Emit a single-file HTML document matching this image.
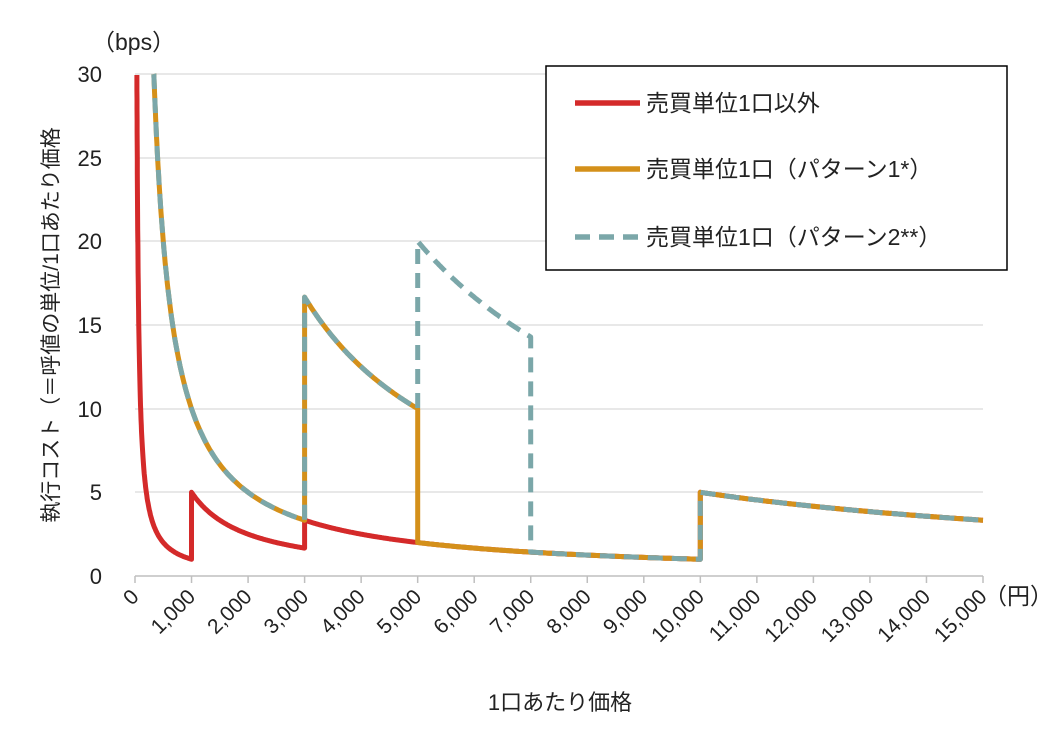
<!DOCTYPE html>
<html><head><meta charset="utf-8"><style>
body{margin:0;background:#fff;}
svg text{font-family:"Liberation Sans","Noto Sans CJK JP",sans-serif;fill:#222;}
</style></head><body>
<svg id="s" width="1049" height="725" xmlns="http://www.w3.org/2000/svg">
<rect width="1049" height="725" fill="#fff"/>
<g stroke="#d9d9d9" stroke-width="1.2">
<line x1="135" x2="983" y1="492" y2="492"/><line x1="135" x2="983" y1="409" y2="409"/>
<line x1="135" x2="983" y1="325" y2="325"/><line x1="135" x2="983" y1="241" y2="241"/>
<line x1="135" x2="983" y1="158" y2="158"/><line x1="135" x2="983" y1="74" y2="74"/>
</g>
<line x1="135" x2="983" y1="576" y2="576" stroke="#bfbfbf" stroke-width="1.5"/>
<g id="ticks" stroke="#bfbfbf" stroke-width="1.5"></g>
<g font-size="22" text-anchor="end">
<text x="102" y="584">0</text><text x="102" y="500">5</text><text x="102" y="417">10</text>
<text x="102" y="333">15</text><text x="102" y="249">20</text><text x="102" y="166">25</text><text x="102" y="82">30</text>
</g>
<g id="xl" font-size="21" text-anchor="end"></g>
<text x="92" y="50" font-size="23">（bps）</text>
<text x="984" y="604" font-size="23">（円）</text>
<text x="560" y="710" font-size="22" text-anchor="middle">1口あたり価格</text>
<text transform="translate(58,325) rotate(-90)" font-size="21" text-anchor="middle">執行コスト（＝呼値の単位/1口あたり価格</text>
<g id="lines" fill="none" stroke-linejoin="round"></g>
<rect x="546" y="66" width="461" height="204" fill="#fff" stroke="#000" stroke-width="1.5"/>
<line x1="575" x2="640" y1="103" y2="103" stroke="#d42a2a" stroke-width="5.5"/>
<line x1="575" x2="640" y1="169" y2="169" stroke="#d4901a" stroke-width="5.5"/>
<line x1="575" x2="640" y1="237" y2="237" stroke="#7ba7a9" stroke-width="5.5" stroke-dasharray="15,9"/>
<g font-size="23"><text x="646" y="111">売買単位1口以外</text>
<text x="646" y="177">売買単位1口（パターン1*）</text>
<text x="646" y="245">売買単位1口（パターン2**）</text></g>
</svg>
<script>
var X=p=>135+p*848/15000,Y=v=>576-v*502/30;
var t='',l='';
for(var i=0;i<=15;i++){var x=X(i*1000);t+=`<line x1="${x}" x2="${x}" y1="576" y2="583"/>`;
var s=i==0?'0':(i*1000).toLocaleString('en-US');l+=`<text transform="translate(${x+5},${598}) rotate(-45)">${s}</text>`;}
document.getElementById('ticks').innerHTML=t;document.getElementById('xl').innerHTML=l;
function path(segs){var d='';segs.forEach(function(g,k){var a=g[0],b=g[1],c=g[2];var n=120;for(var j=0;j<=n;j++){var p=a+(b-a)*Math.pow(j/n,a<400?2:1);var v=Math.min(30,c/p);d+=(d?'L':'M')+X(p).toFixed(1)+' '+Y(v).toFixed(1);}});return d;}
var red=[[33.4,1000,1000],[1000,3000,5000],[3000,5000,10000],[5000,10000,10000],[10000,15000,50000]];
var org=[[333.4,3000,10000],[3000,5000,50000],[5000,10000,10000],[10000,15000,50000]];
var tea=[[333.4,3000,10000],[3000,5000,50000],[5000,7000,100000],[7000,10000,10000],[10000,15000,50000]];
document.getElementById('lines').innerHTML=
`<path d="${path(red)}" stroke="#d42a2a" stroke-width="5"/>`+
`<path d="${path(org)}" stroke="#d4901a" stroke-width="5"/>`+
`<path d="${path(tea)}" stroke="#7ba7a9" stroke-width="5" stroke-dasharray="15,9"/>`;
</script>
</body></html>
